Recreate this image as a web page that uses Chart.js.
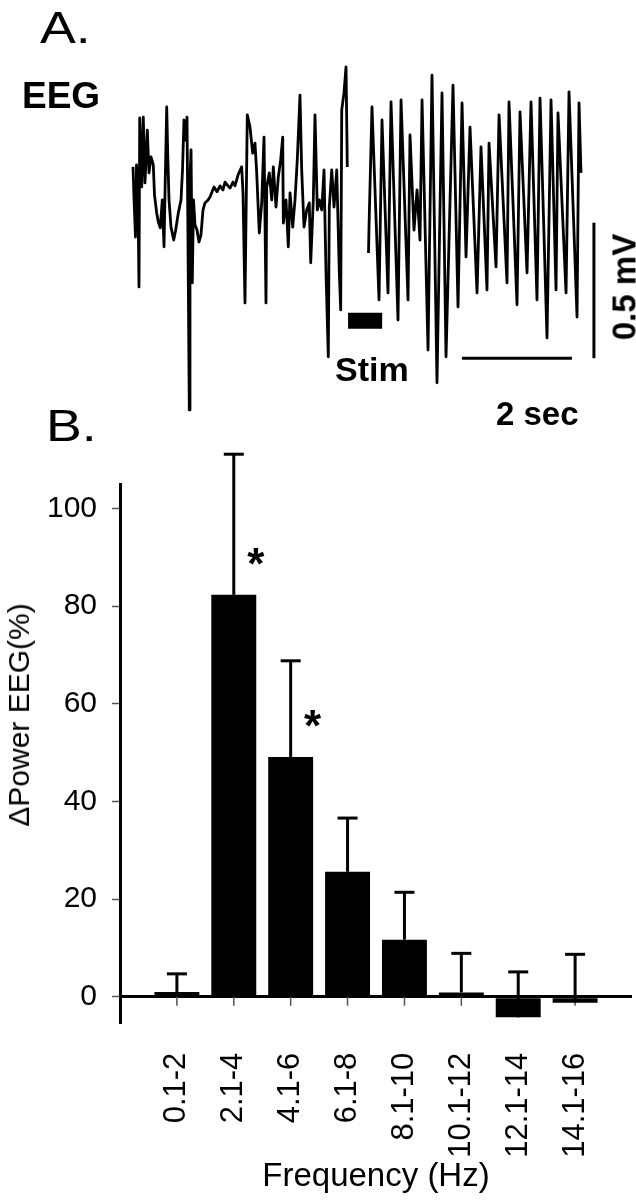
<!DOCTYPE html>
<html>
<head>
<meta charset="utf-8">
<script src="https://cdn.jsdelivr.net/npm/chart.js@4.4.1/dist/chart.umd.min.js"></script>
<style>
  body { margin: 0; background: #fff; }
  #page { position: relative; width: 636px; height: 1200px; overflow: hidden; background: #fff;
          font-family: Arial, "Liberation Sans", sans-serif; color: #000; }
  .lbl { position: absolute; line-height: 1; white-space: nowrap; }
  .rot { transform: translate(-50%, -50%) rotate(-90deg); }
  #eegBox { position: absolute; left: 0; top: 0; width: 636px; height: 440px; }
  #barBox { position: absolute; left: 0; top: 440px; width: 636px; height: 760px; }
</style>
</head>
<body>
<div id="page">
  <div id="eegBox"><canvas id="eegChart" width="636" height="440"></canvas></div>
  <div id="barBox"><canvas id="powerChart" width="636" height="760"></canvas></div>

  <div class="lbl" style="left:40px; top:6px; font-size:44px; transform-origin:0 0; transform:scaleX(1.22);">A.</div>
  <div class="lbl" style="left:22px; top:77px; font-size:37px; font-weight:bold;">EEG</div>
  <div class="lbl" style="left:335px; top:352px; font-size:34px; font-weight:bold;">Stim</div>
  <div class="lbl" style="left:496px; top:397px; font-size:33px; font-weight:bold;">2 sec</div>
  <div class="lbl rot" style="left:624px; top:287px; font-size:33px; font-weight:bold;">0.5 mV</div>
  <div class="lbl" style="left:46px; top:404px; font-size:44px; transform-origin:0 0; transform:scaleX(1.22);">B.</div>
  <div class="lbl rot" style="left:19px; top:715px; font-size:30px;">ΔPower EEG(%)</div>
</div>

<script>
// panel A: EEG trace, time in s, amplitude in mV
var preTime = [0.000, 0.018, 0.045, 0.064, 0.091, 0.109, 0.122, 0.158, 0.187, 0.218,
               0.260, 0.291, 0.327, 0.369, 0.391, 0.431, 0.460, 0.496, 0.533, 0.564,
               0.582, 0.613, 0.631, 0.655, 0.691, 0.740, 0.776, 0.824, 0.873, 0.900,
               0.927, 0.955, 0.982, 1.024, 1.036, 1.055, 1.078, 1.100, 1.127, 1.164,
               1.200, 1.236, 1.273, 1.309, 1.364, 1.400, 1.473, 1.527, 1.582, 1.636,
               1.673, 1.727, 1.764, 1.818, 1.855, 1.909, 1.976, 2.000, 2.036, 2.078,
               2.127, 2.176, 2.218, 2.249, 2.296, 2.340, 2.382, 2.418, 2.431, 2.478,
               2.522, 2.551, 2.600, 2.642, 2.685, 2.722, 2.733, 2.782, 2.824, 2.855,
               2.904, 2.945, 2.987, 3.036, 3.067, 3.109, 3.158, 3.205, 3.231, 3.278,
               3.309, 3.351, 3.387, 3.431, 3.473, 3.509, 3.551, 3.569, 3.613, 3.655,
               3.704, 3.751, 3.776, 3.795, 3.836, 3.873, 3.896];
var preMv = [0.122, 0.007, -0.137, 0.129, 0.000, -0.321, 0.303, 0.048, 0.306, 0.063,
             0.258, 0.100, 0.159, 0.129, 0.018, -0.048, -0.081, -0.103, 0.000, -0.173,
             0.026, 0.343, 0.173, 0.000, -0.100, -0.148, -0.111, -0.048, 0.000, 0.111,
             0.295, 0.221, 0.306, -0.775, 0.074, 0.185, -0.306, 0.000, -0.092, -0.111,
             -0.155, -0.129, -0.037, -0.011, 0.000, 0.011, 0.048, 0.030, 0.052, 0.037,
             0.066, 0.052, 0.044, 0.066, 0.052, 0.092, 0.122, 0.026, -0.380, 0.314,
             0.269, 0.173, 0.210, 0.100, -0.122, -0.011, 0.232, -0.380, 0.048, 0.100,
             0.000, 0.122, -0.026, 0.085, 0.148, 0.232, -0.085, 0.000, -0.173, 0.026,
             -0.100, 0.000, 0.148, 0.387, 0.111, -0.100, -0.037, -0.011, -0.232, 0.000,
             0.314, -0.037, 0.000, -0.037, 0.111, -0.269, -0.579, -0.026, 0.111, -0.026,
             0.111, -0.269, -0.406, 0.332, 0.395, 0.491, 0.122];
var postTime = [4.282, 4.291, 4.345, 4.473, 4.527, 4.636, 4.691, 4.818, 4.873, 5.000,
                5.036, 5.109, 5.164, 5.218, 5.255, 5.364, 5.436, 5.527, 5.618, 5.691,
                5.818, 5.909, 5.982, 6.055, 6.127, 6.255, 6.327, 6.436, 6.473, 6.600,
                6.655, 6.800, 6.836, 6.982, 7.036, 7.164, 7.236, 7.345, 7.400, 7.527,
                7.600, 7.691, 7.727, 7.873, 7.927, 8.073, 8.109, 8.145];
var postMv = [-0.196, -0.100, 0.343, -0.369, 0.295, -0.343, 0.362, -0.443, 0.369, -0.369,
              0.240, -0.111, 0.037, -0.148, 0.369, -0.554, 0.461, -0.675, 0.395, -0.579,
              0.424, -0.395, 0.358, -0.210, 0.269, -0.343, 0.196, -0.332, 0.210, -0.247,
              0.314, -0.306, 0.362, -0.387, 0.325, -0.269, 0.362, -0.369, 0.376, -0.509,
              0.369, -0.332, 0.321, -0.343, 0.399, -0.432, 0.358, 0.100];
var stimStart = 3.91, stimEnd = 4.53, stimLevel = -0.446;
var timeBarStart = 5.98, timeBarLen = 2;      // s
var voltBarTime = 8.38, voltBarLen = 0.5;     // mV
var scaleBarLevel = -0.584;

// panel B: change of EEG power per frequency band
var freqBands = ['0.1-2', '2.1-4', '4.1-6', '6.1-8', '8.1-10', '10.1-12', '12.1-14', '14.1-16'];
var powerChange = [1.0, 82.3, 49.1, 25.6, 11.7, 0.9, -4.2, -1.2];
var powerSem = [3.7, 28.8, 19.7, 11.0, 9.7, 8.0, 9.3, 9.9];
var significant = [false, true, true, false, false, false, false, false];

var FONT = 'Arial, "Liberation Sans", sans-serif';
Chart.defaults.font.family = FONT;
Chart.defaults.color = '#000';

function toPoints(xs, ys) {
    return xs.map(function(x, i) { return {x: x, y: ys[i]}; });
}

var eegChart = new Chart(document.getElementById('eegChart'), {
    type: 'line',
    data: {
        datasets: [
            { data: toPoints(preTime, preMv), borderColor: '#000', borderWidth: 2.8 },
            { data: toPoints(postTime, postMv), borderColor: '#000', borderWidth: 2.8 },
            { data: [{x: stimStart, y: stimLevel}, {x: stimEnd, y: stimLevel}],
              borderColor: '#000', borderWidth: 16, borderCapStyle: 'butt' },
            { data: [{x: timeBarStart, y: scaleBarLevel}, {x: timeBarStart + timeBarLen, y: scaleBarLevel}],
              borderColor: '#000', borderWidth: 3, borderCapStyle: 'butt' },
            { data: [{x: voltBarTime, y: scaleBarLevel}, {x: voltBarTime, y: scaleBarLevel + voltBarLen}],
              borderColor: '#000', borderWidth: 3, borderCapStyle: 'butt' }
        ]
    },
    options: {
        responsive: false,
        animation: false,
        elements: { point: { radius: 0 }, line: { tension: 0, borderJoinStyle: 'round' } },
        plugins: { legend: { display: false }, tooltip: { enabled: false } },
        layout: { padding: 0 },
        scales: {
            x: { type: 'linear', display: false, min: -2.418, max: 9.145 },
            y: { type: 'linear', display: false, min: -0.886, max: 0.738 }
        }
    }
});

var errorBars = {
    id: 'errorBars',
    beforeDatasetsDraw: function(chart) {
        // small tick marks under the zero line
        var ctx = chart.ctx, xs = chart.scales.x, ys = chart.scales.y;
        var y0 = ys.getPixelForValue(0);
        ctx.save();
        ctx.strokeStyle = '#555';
        ctx.lineWidth = 1.5;
        freqBands.forEach(function(b, i) {
            var px = xs.getPixelForValue(i + 1);
            ctx.beginPath();
            ctx.moveTo(px, y0);
            ctx.lineTo(px, y0 + 9);
            ctx.stroke();
        });
        ctx.restore();
    },
    afterDatasetsDraw: function(chart) {
        var ctx = chart.ctx, xs = chart.scales.x, ys = chart.scales.y;
        ctx.save();
        ctx.strokeStyle = '#000';
        ctx.fillStyle = '#000';
        freqBands.forEach(function(b, i) {
            var px = xs.getPixelForValue(i + 1);
            var yBase = ys.getPixelForValue(powerChange[i]);
            var yTop = ys.getPixelForValue(powerChange[i] + powerSem[i]);
            ctx.lineWidth = 3;
            ctx.beginPath();
            ctx.moveTo(px, yBase);
            ctx.lineTo(px, yTop);
            ctx.stroke();
            ctx.beginPath();
            ctx.moveTo(px - 10, yTop);
            ctx.lineTo(px + 10, yTop);
            ctx.stroke();
            if (significant[i]) {
                ctx.font = 'bold 44px ' + FONT;
                ctx.textAlign = 'center';
                ctx.textBaseline = 'alphabetic';
                ctx.fillText('*', px + 22, ys.getPixelForValue(powerChange[i] + 8.5) + 26);
            }
        });
        ctx.restore();
    }
};

var powerChart = new Chart(document.getElementById('powerChart'), {
    type: 'bar',
    data: {
        datasets: [{
            data: freqBands.map(function(b, i) { return {x: i + 1, y: powerChange[i]}; }),
            backgroundColor: '#000',
            borderWidth: 0,
            barPercentage: 1,
            categoryPercentage: 0.79
        }]
    },
    options: {
        responsive: false,
        animation: false,
        layout: { padding: { top: 44, right: 4, left: 0, bottom: 0 } },
        plugins: { legend: { display: false }, tooltip: { enabled: false } },
        scales: {
            x: {
                type: 'linear', min: 0, max: 9, offset: false,
                grid: { display: false, offset: false },
                border: { display: false },
                ticks: {
                    stepSize: 1, autoSkip: false, minRotation: 90, maxRotation: 90,
                    padding: 22, color: '#000', font: { size: 31 },
                    callback: function(v) { return freqBands[v - 1] || ''; }
                },
                title: { display: true, text: 'Frequency (Hz)', color: '#000',
                         font: { size: 33 }, padding: { top: 0, bottom: 3 } },
                afterFit: function(s) {
                    s.height = 177.3;
                    s.paddingLeft = 0;
                    s.paddingRight = 0;
                }
            },
            y: {
                min: -5.3, max: 105,
                grid: {
                    drawOnChartArea: true,
                    color: function(c) { return c.tick && c.tick.value === 0 ? '#000' : 'rgba(0,0,0,0)'; },
                    lineWidth: 3, tickColor: '#555', tickWidth: 1.5, tickLength: 8
                },
                border: { display: true, color: '#000', width: 3 },
                ticks: { stepSize: 20, includeBounds: false, padding: 15, color: '#000', font: { size: 30 } },
                afterFit: function(s) { s.width = 120; }
            }
        }
    },
    plugins: [errorBars]
});
</script>
</body>
</html>
